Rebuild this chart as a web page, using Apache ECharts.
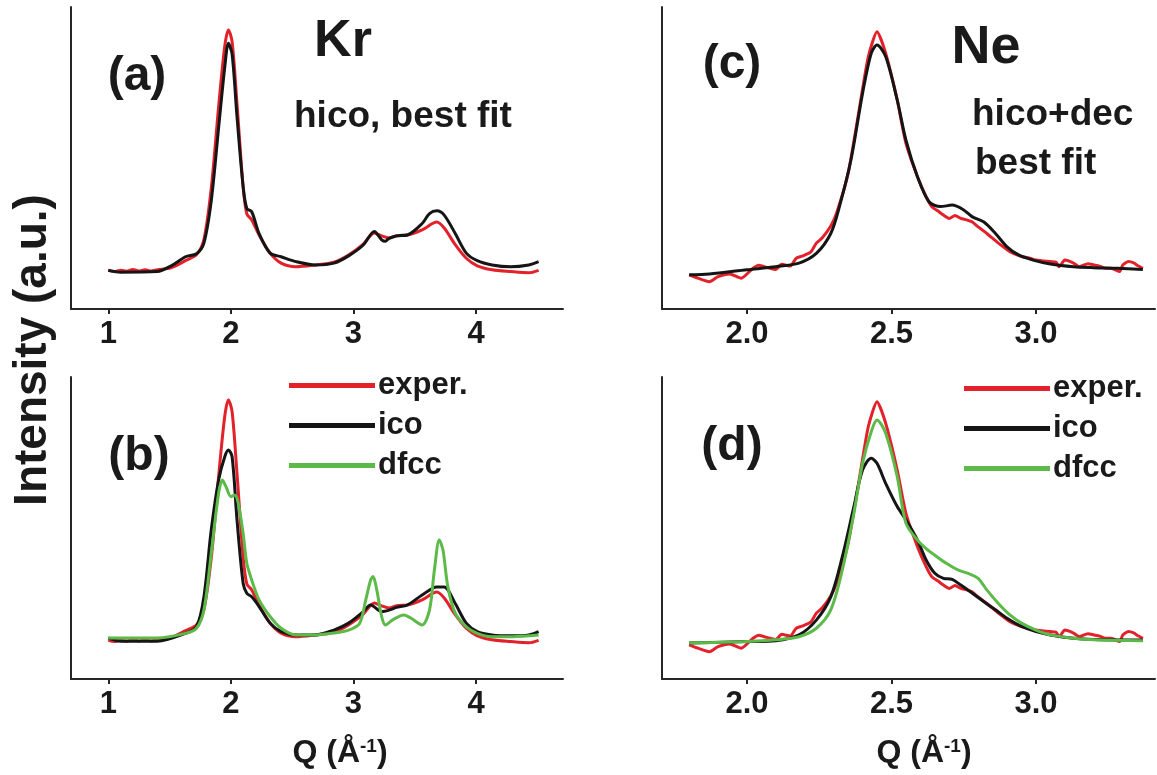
<!DOCTYPE html>
<html>
<head>
<meta charset="utf-8">
<script src="https://cdn.jsdelivr.net/npm/echarts@6/dist/echarts.min.js"></script>
<style>html,body{margin:0;padding:0;background:#fff;}#c{width:1157px;height:775px;}</style>
</head>
<body>
<div id="c"></div>
<script>
// ---- tick labels ----
const krTicks = [1, 2, 3, 4];
const neTicks = [2.0, 2.5, 3.0];
const legendNames = ['exper.', 'ico', 'dfcc'];

// ---- Kr experimental (panels a, b): [Q, intensity a.u.] ----
const krExper = [[1.0,12.9],[1.05,12.4],[1.1,12.8],[1.15,12.5],[1.2,13.1],[1.25,12.6],[1.3,13.0],[1.35,12.6],[1.4,13.0],[1.51,13.6],[1.63,16.0],[1.72,18.0],[1.78,23.0],[1.84,40.0],[1.90,67.0],[1.95,87.0],[1.98,92.4],[2.01,88.5],[2.05,68.0],[2.10,40.5],[2.13,31.5],[2.17,29.5],[2.23,24.5],[2.32,18.5],[2.41,15.2],[2.53,14.0],[2.69,14.6],[2.84,15.5],[2.96,17.9],[3.08,21.5],[3.17,25.2],[3.23,24.2],[3.29,23.5],[3.35,24.3],[3.44,24.5],[3.56,26.2],[3.68,28.8],[3.74,26.8],[3.83,21.3],[3.92,16.8],[4.01,14.3],[4.13,13.0],[4.28,12.4],[4.43,12.0],[4.51,12.8]];
// Kr hico best fit (panel a)
const krHico = [[1.0,12.8],[1.1,12.2],[1.4,12.4],[1.51,14.2],[1.63,17.3],[1.72,18.3],[1.78,21.8],[1.84,35.8],[1.90,60.0],[1.95,80.0],[1.98,88.0],[2.01,84.4],[2.05,63.7],[2.10,40.5],[2.13,33.3],[2.17,32.2],[2.23,25.0],[2.32,18.5],[2.41,17.3],[2.53,15.7],[2.69,14.6],[2.84,15.2],[2.96,17.6],[3.08,21.2],[3.17,25.7],[3.23,22.9],[3.26,22.4],[3.29,23.4],[3.35,24.2],[3.44,24.5],[3.56,28.3],[3.62,31.6],[3.68,32.5],[3.74,31.1],[3.83,25.0],[3.92,18.5],[4.01,16.0],[4.13,14.6],[4.28,14.0],[4.43,14.6],[4.51,15.7]];
// Kr ico (panel b)
const krIco = [[1.0,13.6],[1.1,12.5],[1.4,12.5],[1.63,15.1],[1.72,17.3],[1.78,27.2],[1.84,49.4],[1.90,65.9],[1.95,73.6],[1.98,75.8],[2.01,73.6],[2.05,52.7],[2.10,31.7],[2.13,28.4],[2.17,27.2],[2.23,24.0],[2.32,18.5],[2.41,15.7],[2.53,14.6],[2.69,14.6],[2.84,16.2],[2.96,18.5],[3.08,22.3],[3.14,24.5],[3.23,22.3],[3.29,22.8],[3.35,23.7],[3.44,24.5],[3.56,27.8],[3.68,30.5],[3.74,30.5],[3.83,25.0],[3.92,18.5],[4.01,15.7],[4.13,14.6],[4.28,14.3],[4.43,14.6],[4.51,15.7]];
// Kr dfcc (panel b)
const krDfcc = [[1.0,13.6],[1.4,13.6],[1.63,15.1],[1.72,16.8],[1.78,22.8],[1.84,41.6],[1.90,61.5],[1.93,65.9],[1.96,63.7],[2.00,60.4],[2.03,60.9],[2.06,58.2],[2.10,48.2],[2.13,38.3],[2.17,32.8],[2.23,26.2],[2.32,20.7],[2.41,16.8],[2.53,14.6],[2.69,14.6],[2.84,15.2],[2.96,16.2],[3.05,18.4],[3.10,26.2],[3.14,32.8],[3.16,33.9],[3.19,29.5],[3.23,20.7],[3.26,17.9],[3.32,19.6],[3.41,21.2],[3.47,20.1],[3.56,17.9],[3.62,22.8],[3.66,36.1],[3.70,46.0],[3.73,42.7],[3.77,30.5],[3.83,21.8],[3.92,17.3],[4.01,15.1],[4.13,14.0],[4.28,14.0],[4.43,14.3],[4.51,14.6]];

// ---- Ne experimental (panels c, d) ----
const neExper = [[1.80,11.3],[1.83,10.2],[1.87,9.0],[1.90,10.7],[1.94,11.6],[1.98,10.2],[2.02,13.4],[2.04,14.5],[2.06,14.0],[2.08,13.5],[2.10,13.1],[2.12,14.8],[2.15,14.2],[2.17,16.8],[2.19,17.5],[2.22,18.8],[2.24,21.8],[2.26,23.5],[2.29,27.5],[2.31,31.7],[2.35,44.9],[2.39,67.0],[2.42,83.6],[2.45,91.8],[2.48,84.7],[2.52,69.2],[2.55,54.9],[2.59,43.8],[2.62,37.2],[2.64,33.8],[2.66,32.5],[2.68,31.1],[2.70,30.0],[2.72,31.0],[2.74,30.0],[2.76,29.5],[2.78,28.8],[2.80,27.2],[2.83,25.0],[2.87,21.8],[2.91,19.0],[2.95,17.4],[2.98,16.8],[3.00,16.2],[3.02,16.0],[3.05,15.7],[3.07,15.5],[3.08,14.0],[3.10,16.2],[3.13,15.2],[3.15,14.0],[3.18,15.0],[3.20,14.6],[3.22,14.2],[3.24,13.5],[3.26,13.5],[3.29,12.4],[3.30,14.5],[3.32,15.7],[3.34,15.2],[3.35,14.5],[3.37,13.5]];
// Ne hico+dec best fit (panel c)
const neHicoDec = [[1.80,11.3],[1.87,11.6],[2.0,13.0],[2.10,14.0],[2.18,15.2],[2.24,18.4],[2.29,25.0],[2.32,33.9],[2.36,49.4],[2.40,71.4],[2.43,84.7],[2.45,87.4],[2.48,83.6],[2.52,69.2],[2.55,56.0],[2.59,43.8],[2.63,35.5],[2.67,33.9],[2.71,34.4],[2.75,32.8],[2.78,30.5],[2.82,28.8],[2.86,25.0],[2.90,20.6],[2.94,17.9],[2.99,16.2],[3.05,14.9],[3.13,14.0],[3.20,13.7],[3.28,13.5],[3.37,13.1]];
// Ne ico (panel d)
const neIco = [[1.80,11.9],[2.0,12.4],[2.10,12.7],[2.18,14.6],[2.24,19.5],[2.29,27.2],[2.33,40.5],[2.37,57.1],[2.40,69.2],[2.43,73.1],[2.45,71.4],[2.48,64.8],[2.52,57.1],[2.55,52.7],[2.59,46.0],[2.62,39.4],[2.65,35.0],[2.68,33.3],[2.71,33.0],[2.74,31.1],[2.78,28.4],[2.82,25.6],[2.86,22.9],[2.90,20.1],[2.95,17.4],[3.00,15.7],[3.05,14.6],[3.13,13.5],[3.20,13.1],[3.37,12.9]];
// Ne dfcc (panel d)
const neDfcc = [[1.80,11.9],[2.0,12.4],[2.10,13.0],[2.18,14.0],[2.24,16.8],[2.29,22.9],[2.33,36.1],[2.37,54.9],[2.40,71.4],[2.43,81.9],[2.45,85.8],[2.48,81.4],[2.52,67.0],[2.55,51.6],[2.59,46.0],[2.62,43.2],[2.65,41.0],[2.69,38.3],[2.73,36.1],[2.77,34.8],[2.80,33.3],[2.83,29.5],[2.87,25.0],[2.91,21.2],[2.95,18.5],[3.00,16.2],[3.05,14.6],[3.13,13.5],[3.20,13.0],[3.37,12.7]];

const RED = '#e3212b', BLACK = '#151515', GREEN = '#5cba48';
const FONT = '"Liberation Sans", Arial, Helvetica, sans-serif';
const AX = '#262626';

const chart = echarts.init(document.getElementById('c'), null, {renderer: 'canvas'});

function xAx(gi, min, max, ticks, fmt) {
  return {
    type: 'value', gridIndex: gi, min: min, max: max,
    axisLine: {show: true, onZero: false, lineStyle: {color: AX, width: 2}},
    axisTick: {show: true, customValues: ticks, length: 5, lineStyle: {color: AX, width: 2}},
    axisLabel: {show: true, customValues: ticks, margin: 10, color: '#1a1a1a', fontSize: 31, fontWeight: 'bold', fontFamily: FONT, formatter: fmt},
    splitLine: {show: false}
  };
}
function yAx(gi) {
  return {
    type: 'value', gridIndex: gi, min: 0, max: 100,
    axisLine: {show: true, lineStyle: {color: AX, width: 2}},
    axisTick: {show: false}, axisLabel: {show: false}, splitLine: {show: false}
  };
}
function ln(name, data, color, xi, smooth) {
  return {
    name: name, type: 'line', data: data, xAxisIndex: xi, yAxisIndex: xi,
    showSymbol: false, symbol: 'none', smooth: smooth, animation: false,
    lineStyle: {color: color, width: 3}, itemStyle: {color: color}
  };
}
const txt = (s, x, y, size, align) => ({
  type: 'text', x: x, y: y, silent: true,
  style: {text: s, fill: '#1a1a1a', font: 'bold ' + size + 'px ' + FONT, align: align || 'center', verticalAlign: 'middle'}
});
const qLabel = (x) => ({
  type: 'text', x: x, y: 753, silent: true,
  style: {
    text: '{m|Q (Å}{s|-1}{m|)}', align: 'center', verticalAlign: 'middle',
    rich: {
      m: {fontSize: 32, fontWeight: 'bold', fontFamily: FONT, fill: '#1a1a1a'},
      s: {fontSize: 19, fontWeight: 'bold', fontFamily: FONT, fill: '#1a1a1a', verticalAlign: 'top'}
    }
  }
});
const legendCfg = (left, top) => ({
  show: true, orient: 'vertical', left: left, top: top,
  data: legendNames, icon: 'rect', itemWidth: 86, itemHeight: 5, itemGap: 9,
  textStyle: {fontSize: 31, fontWeight: 'bold', fontFamily: FONT, color: '#1a1a1a', padding: [0,0,0,-2]},
  selectedMode: false
});

const fmt1 = v => v.toFixed(1);
const fmt0 = v => String(Math.round(v));

chart.setOption({
  animation: false,
  backgroundColor: '#fff',
  grid: [
    {left: 71, top: 7, width: 492, height: 302},
    {left: 71, top: 377, width: 492, height: 302},
    {left: 662, top: 7, width: 493, height: 302},
    {left: 662, top: 377, width: 493, height: 302}
  ],
  xAxis: [
    xAx(0, 0.696, 4.709, krTicks, fmt0),
    xAx(1, 0.696, 4.709, krTicks, fmt0),
    xAx(2, 1.706, 3.412, neTicks, fmt1),
    xAx(3, 1.706, 3.412, neTicks, fmt1)
  ],
  yAxis: [yAx(0), yAx(1), yAx(2), yAx(3)],
  legend: [legendCfg(284, 365), legendCfg(959, 368)],
  series: [
    ln('exper.', krExper, RED, 0, 0.3),
    ln('hico', krHico, BLACK, 0, 0.3),
    ln('exper.', krExper, RED, 1, 0.3),
    ln('ico', krIco, BLACK, 1, 0.3),
    ln('dfcc', krDfcc, GREEN, 1, 0.3),
    ln('exper.', neExper, RED, 2, 0.2),
    ln('hico+dec', neHicoDec, BLACK, 2, 0.3),
    ln('exper.', neExper, RED, 3, 0.2),
    ln('ico', neIco, BLACK, 3, 0.3),
    ln('dfcc', neDfcc, GREEN, 3, 0.3)
  ],
  graphic: [
    {type: 'text', x: 33, y: 350, rotation: Math.PI / 2, silent: true,
     style: {text: 'Intensity (a.u.)', fill: '#1a1a1a', font: 'bold 46px ' + FONT, align: 'center', verticalAlign: 'middle'}},
    txt('Kr', 343, 42, 52),
    txt('(a)', 137, 77, 48),
    txt('hico, best fit', 294, 117, 37, 'left'),
    txt('(b)', 139, 457, 48),
    txt('Ne', 986, 48, 54),
    txt('(c)', 732, 65, 48),
    txt('hico+dec', 972, 115, 37, 'left'),
    txt('best fit', 975, 164, 37, 'left'),
    txt('(d)', 732, 447, 48),
    qLabel(340),
    qLabel(924)
  ]
});
</script>
</body>
</html>
